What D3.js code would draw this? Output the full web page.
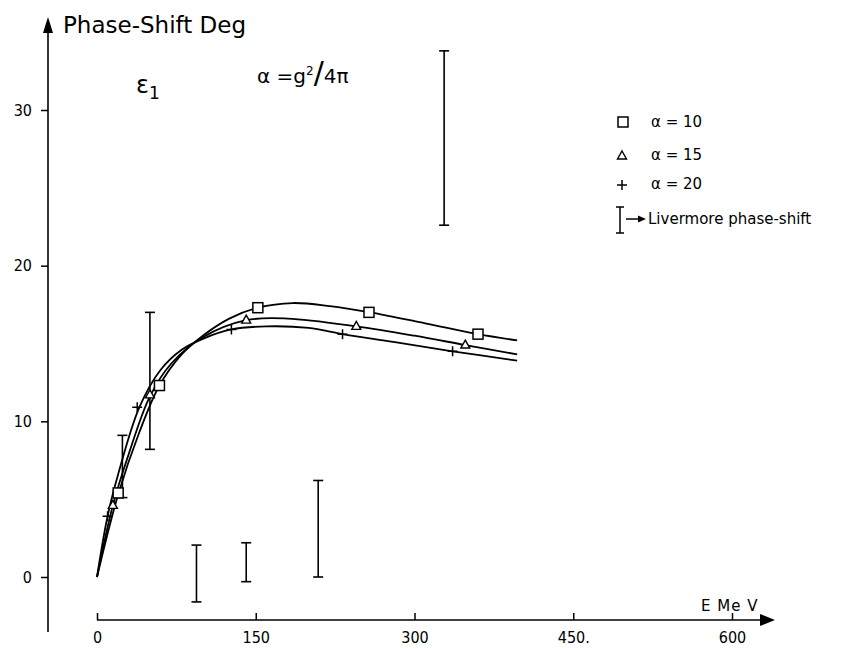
<!DOCTYPE html>
<html>
<head>
<meta charset="utf-8">
<script src="https://cdn.jsdelivr.net/npm/d3@7"></script>
<style>
  body { margin: 0; background: #fff; }
  svg { display: block; }
  text { font-family: "DejaVu Sans", sans-serif; fill: #000; }
</style>
</head>
<body>
<svg id="chart" width="849" height="649"></svg>
<script>
// curves (E MeV, phase shift deg)
var alpha10Curve = [[0,0],[20,5.3],[40,9.3],[59,12.3],[80,14.3],[100,15.5],[125,16.6],[152,17.3],[185,17.6],[220,17.4],[258,17.0],[310,16.3],[360,15.6],[397,15.2]];
var alpha15Curve = [[0,0],[15,4.6],[30,7.9],[50,11.6],[70,13.7],[100,15.4],[141,16.5],[180,16.6],[245,16.1],[300,15.5],[348,14.9],[397,14.3]];
var alpha20Curve = [[0,0],[10,3.9],[20,6.6],[40,10.9],[60,13.3],[80,14.6],[100,15.3],[127,15.9],[160,16.1],[200,16.0],[232,15.6],[280,15.1],[336,14.5],[397,13.9]];

// markers
var alpha10Points = [[20,5.4],[59,12.3],[152,17.3],[257,17.0],[360,15.6]];
var alpha15Points = [[15,4.6],[50,11.7],[141,16.5],[245,16.1],[348,14.9]];
var alpha20Points = [[10,3.9],[38,10.9],[127,15.9],[232,15.6],[336,14.5]];

// Livermore phase-shift bars: E, low, high
var livermore = [[24,5.1,9.1],[50,8.2,17.0],[94,-1.6,2.05],[141,-0.3,2.2],[209,0,6.2],[328,22.6,33.8]];

var xTicks = [0,150,300,450,600];
var xTickLabels = ["0","150","300","450.","600"];
var yTicks = [0,10,20,30];

var svg = d3.select("#chart");

var x = d3.scaleLinear().domain([0,600]).range([97,732]);
var y = d3.scaleLinear().domain([0,30]).range([577,110]);

var tickFont = "'DejaVu Sans Condensed', 'DejaVu Sans', sans-serif";

// x axis
var xAxis = d3.axisBottom(x)
    .tickValues(xTicks)
    .tickFormat(function(d,i) { return xTickLabels[i]; })
    .tickSizeInner(-7)
    .tickSizeOuter(0)
    .tickPadding(12);

var gx = svg.append("g")
    .attr("transform", "translate(0,620)")
    .call(xAxis);
gx.select(".domain").remove();
gx.selectAll(".tick line").attr("stroke", "#000").attr("stroke-width", 1.5);
gx.selectAll(".tick text").style("font-size", "16px").style("font-family", tickFont);

svg.append("line")
    .attr("x1", x(0)).attr("x2", 765)
    .attr("y1", 620).attr("y2", 620)
    .attr("stroke", "#000").attr("stroke-width", 1.6);
svg.append("path")
    .attr("d", "M775,620 L760,614 L760,626 Z")
    .attr("fill", "#000");

// y axis
var yAxis = d3.axisLeft(y)
    .tickValues(yTicks)
    .tickSizeInner(7)
    .tickSizeOuter(0)
    .tickPadding(9);

var gy = svg.append("g")
    .attr("transform", "translate(48,0)")
    .call(yAxis);
gy.select(".domain").remove();
gy.selectAll(".tick line").attr("stroke", "#000").attr("stroke-width", 1.5);
gy.selectAll(".tick text").style("font-size", "16px").style("font-family", tickFont);

svg.append("line")
    .attr("x1", 48).attr("x2", 48)
    .attr("y1", 632).attr("y2", 30)
    .attr("stroke", "#000").attr("stroke-width", 1.6);
svg.append("path")
    .attr("d", "M48,17 L43,33 L53,33 Z")
    .attr("fill", "#000");

// curves
var line = d3.line()
    .x(function(d) { return x(d[0]); })
    .y(function(d) { return y(d[1]); })
    .curve(d3.curveCatmullRom.alpha(0.5));

[alpha10Curve, alpha15Curve, alpha20Curve].forEach(function(c) {
    svg.append("path")
        .datum(c)
        .attr("d", line)
        .attr("fill", "none")
        .attr("stroke", "#000")
        .attr("stroke-width", 1.8);
});

// livermore bars
var bars = svg.append("g").attr("stroke", "#000").attr("stroke-width", 1.6);
livermore.forEach(function(d) {
    var cx = x(d[0]);
    bars.append("line").attr("x1", cx).attr("x2", cx).attr("y1", y(d[1])).attr("y2", y(d[2]));
    bars.append("line").attr("x1", cx - 5).attr("x2", cx + 5).attr("y1", y(d[1])).attr("y2", y(d[1]));
    bars.append("line").attr("x1", cx - 5).attr("x2", cx + 5).attr("y1", y(d[2])).attr("y2", y(d[2]));
});

// markers
function square(g, px, py) {
    g.append("rect").attr("x", px - 5).attr("y", py - 5).attr("width", 10).attr("height", 10)
        .attr("fill", "#fff").attr("stroke", "#000").attr("stroke-width", 1.5);
}
function triangle(g, px, py) {
    g.append("path").attr("d", "M" + px + "," + (py - 5) + " L" + (px + 4.5) + "," + (py + 3) + " L" + (px - 4.5) + "," + (py + 3) + " Z")
        .attr("fill", "#fff").attr("stroke", "#000").attr("stroke-width", 1.4);
}
function plus(g, px, py) {
    g.append("path").attr("d", "M" + (px - 5) + "," + py + " H" + (px + 5) + " M" + px + "," + (py - 5) + " V" + (py + 5))
        .attr("fill", "none").attr("stroke", "#000").attr("stroke-width", 1.5);
}

var marks = svg.append("g");
alpha10Points.forEach(function(d) { square(marks, x(d[0]), y(d[1])); });
alpha15Points.forEach(function(d) { triangle(marks, x(d[0]), y(d[1])); });
alpha20Points.forEach(function(d) { plus(marks, x(d[0]), y(d[1])); });

// titles
svg.append("text").attr("x", 63).attr("y", 33).style("font-size", "23px").text("Phase-Shift Deg");
svg.append("text").attr("x", 701).attr("y", 611).style("font-size", "15px").style("letter-spacing", "1px").text("E  Me V");

var eps = svg.append("text").attr("x", 136).attr("y", 93).style("font-size", "24px");
eps.append("tspan").text("ε");
eps.append("tspan").attr("dy", 6).style("font-size", "17px").text("1");

var al = svg.append("text").attr("x", 257).attr("y", 83).style("font-size", "20px");
al.append("tspan").text("α =g");
al.append("tspan").attr("dy", -8).style("font-size", "12px").text("2");
al.append("tspan").attr("dy", 8).style("font-size", "30px").text("/");
al.append("tspan").text("4π");

// legend
var leg = svg.append("g");
square(leg, 623, 122);
triangle(leg, 622, 156);
plus(leg, 622, 185);
leg.append("text").attr("x", 651).attr("y", 127).style("font-size", "15px").text("α  = 10");
leg.append("text").attr("x", 651).attr("y", 160).style("font-size", "15px").text("α  = 15");
leg.append("text").attr("x", 651).attr("y", 189).style("font-size", "15px").text("α  = 20");

var lb = leg.append("g").attr("stroke", "#000").attr("stroke-width", 1.5);
lb.append("line").attr("x1", 620).attr("x2", 620).attr("y1", 207).attr("y2", 233);
lb.append("line").attr("x1", 616).attr("x2", 624).attr("y1", 207).attr("y2", 207);
lb.append("line").attr("x1", 616).attr("x2", 624).attr("y1", 233).attr("y2", 233);
lb.append("line").attr("x1", 626).attr("x2", 640).attr("y1", 219).attr("y2", 219);
leg.append("path").attr("d", "M646,219 L638,215.5 L638,222.5 Z").attr("fill", "#000");
leg.append("text").attr("x", 648).attr("y", 224).style("font-size", "15px").text("Livermore phase-shift");
</script>
</body>
</html>
